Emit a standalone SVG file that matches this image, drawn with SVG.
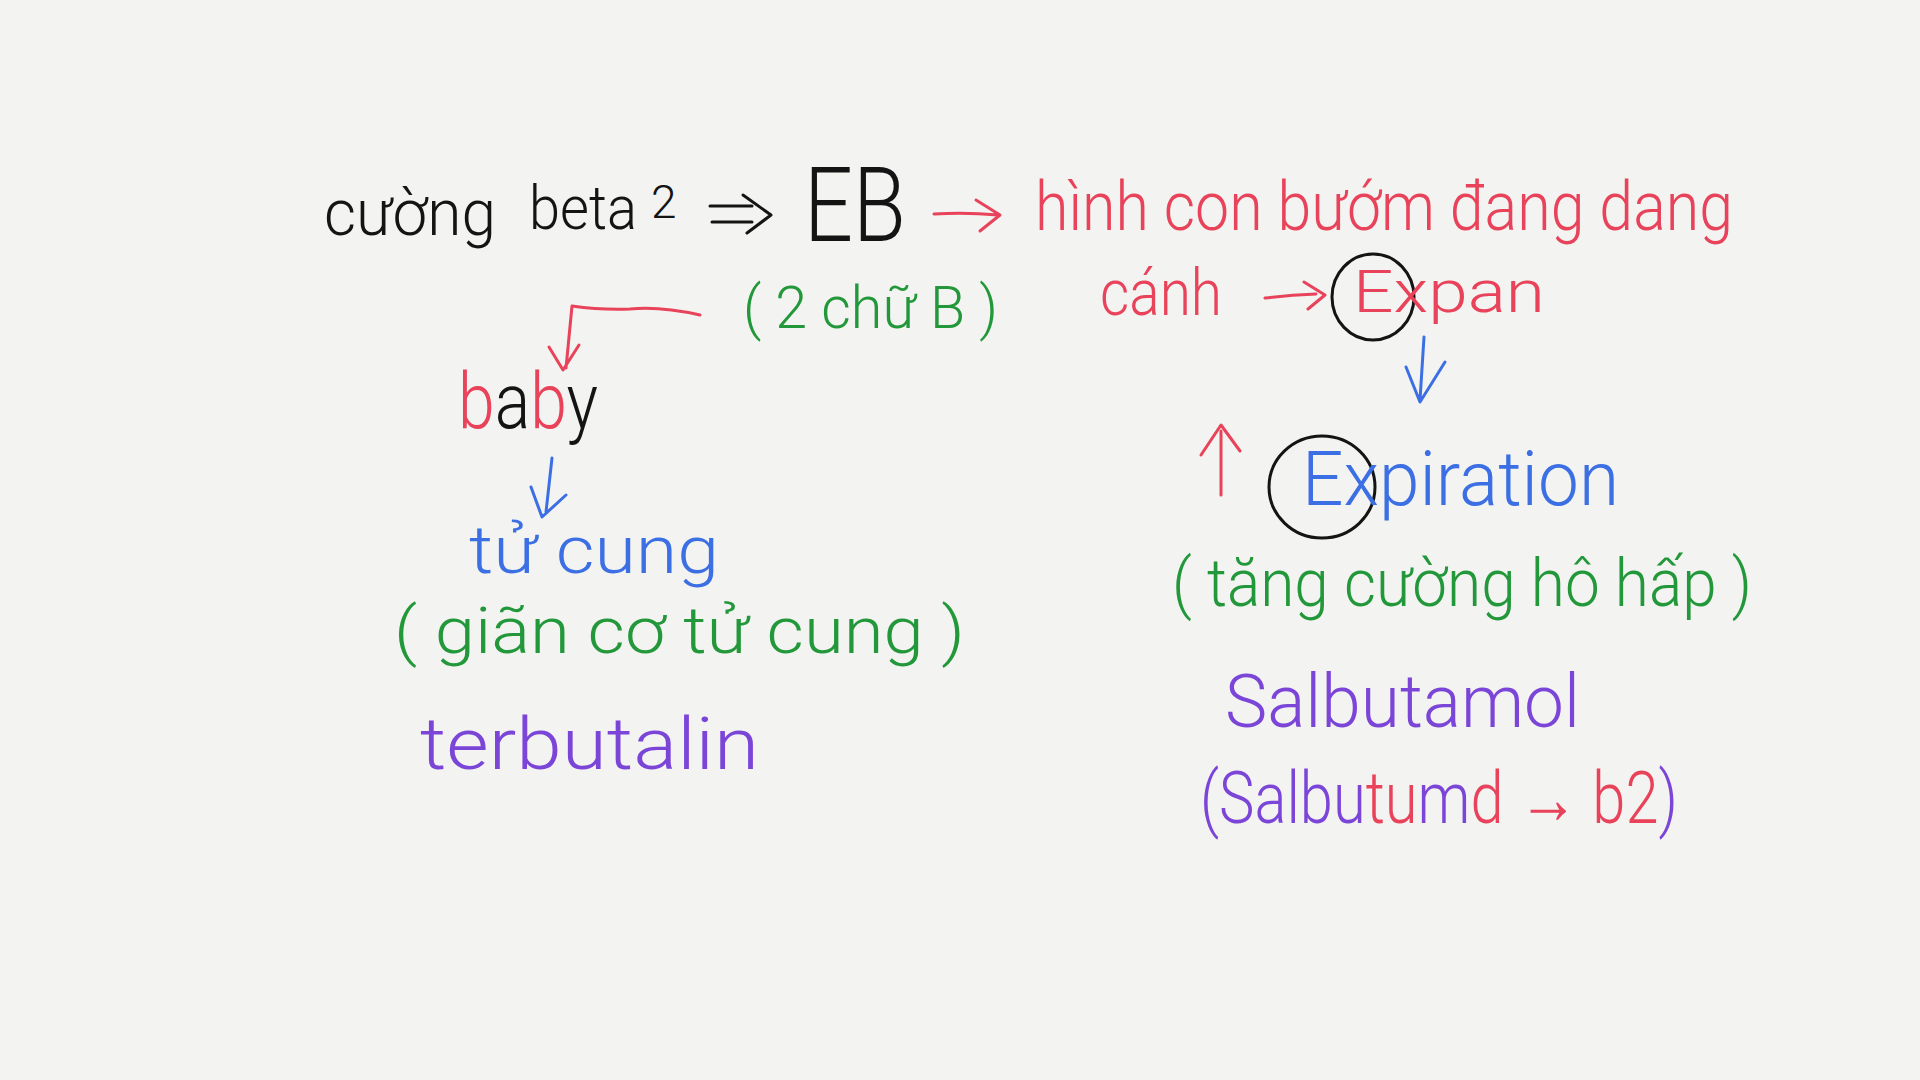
<svg xmlns="http://www.w3.org/2000/svg" width="1920" height="1080" viewBox="0 0 1920 1080">
<style>
.t{font-family:"Roboto","Liberation Sans","Noto Sans",sans-serif;font-weight:300}
.k{fill:#141414}.r{fill:#e8435a}.g{fill:#22983a}.b{fill:#3b6fe3}.p{fill:#7b45d8}
.ln{fill:none;stroke-width:3;stroke-linecap:round;stroke-linejoin:round}
.sk{stroke:#141414}.sr{stroke:#e8435a}.sb{stroke:#3b6fe3}
</style>
<rect width="1920" height="1080" fill="#f3f3f1"/>
<g id="connectors">
  <path class="ln sk" d="M710 206 L752 206 M712 222 L752 222 M743 195 L771 215 L747 233"/>
  <path class="ln sr" d="M934 214 Q966 212 998 215 M976 200 L1000 215 L980 231"/>
  <path class="ln sr" d="M1265 298 Q1290 295 1316 294 M1304 282 L1325 295 L1308 309"/>
  <path class="ln sb" d="M1424 337 Q1422 370 1420 400 M1406 367 L1420 402 L1445 362"/>
  <path class="ln sr" d="M1221 495 L1221 431 M1201 455 L1221 425 L1240 451"/>
  <path class="ln sr" d="M700 315 Q660 306 630 309 Q600 310 572 306 L566 368 M549 347 L563 370 L579 345"/>
  <path class="ln sb" d="M552 458 L546 512 M531 487 L542 517 L566 495"/>
</g>
<g id="n-cuong"><text class="t k" x="324" y="235" font-size="64" textLength="172" lengthAdjust="spacingAndGlyphs">cường</text></g>
<g id="n-beta"><text class="t k" x="529" y="229" font-size="62" textLength="108" lengthAdjust="spacingAndGlyphs">beta</text><text class="t k" x="651" y="218" font-size="46">2</text></g>
<g id="n-eb"><text class="t k" x="804" y="241" font-size="104" textLength="102" lengthAdjust="spacingAndGlyphs">EB</text></g>
<g id="n-hinh"><text class="t r" x="1035" y="230" font-size="68" textLength="698" lengthAdjust="spacingAndGlyphs">hình con bướm đang dang</text></g>
<g id="n-canh"><text class="t r" x="1100" y="315" font-size="64" textLength="122" lengthAdjust="spacingAndGlyphs">cánh</text></g>
<g id="n-expan"><ellipse cx="1373" cy="297" rx="41" ry="43" fill="none" stroke="#141414" stroke-width="3"/><text class="t r" x="1353" y="312" font-size="60" textLength="192" lengthAdjust="spacingAndGlyphs">Expan</text></g>
<g id="n-expiration"><ellipse cx="1322" cy="487" rx="53" ry="51" fill="none" stroke="#141414" stroke-width="3"/><text class="t b" x="1302" y="505" font-size="76" textLength="317" lengthAdjust="spacingAndGlyphs">Expiration</text></g>
<g id="n-tang"><text class="t g" x="1172" y="606" font-size="66" textLength="580" lengthAdjust="spacingAndGlyphs">( tăng cường hô hấp )</text></g>
<g id="n-salbutamol"><text class="t p" x="1225" y="727" font-size="74" textLength="355" lengthAdjust="spacingAndGlyphs">Salbutamol</text></g>
<g id="n-salbu2"><text class="t" x="1200" y="823" font-size="72" textLength="478" lengthAdjust="spacingAndGlyphs"><tspan class="p">(Salbu</tspan><tspan class="r">tu</tspan><tspan class="p">m</tspan><tspan class="r">d → b2</tspan><tspan class="p">)</tspan></text></g>
<g id="n-2chu"><text class="t g" x="743" y="328" font-size="60" textLength="255" lengthAdjust="spacingAndGlyphs">( 2 chữ B )</text></g>
<g id="n-baby"><text class="t" x="458" y="428" font-size="78" textLength="140" lengthAdjust="spacingAndGlyphs"><tspan class="r">b</tspan><tspan class="k">a</tspan><tspan class="r">b</tspan><tspan class="k">y</tspan></text></g>
<g id="n-tucung"><text class="t b" x="469" y="573" font-size="66" textLength="250" lengthAdjust="spacingAndGlyphs">tử cung</text></g>
<g id="n-gian"><text class="t g" x="394" y="653" font-size="64" textLength="571" lengthAdjust="spacingAndGlyphs">( giãn cơ tử cung )</text></g>
<g id="n-terbutalin"><text class="t p" x="420" y="769" font-size="72" textLength="339" lengthAdjust="spacingAndGlyphs">terbutalin</text></g>
</svg>
